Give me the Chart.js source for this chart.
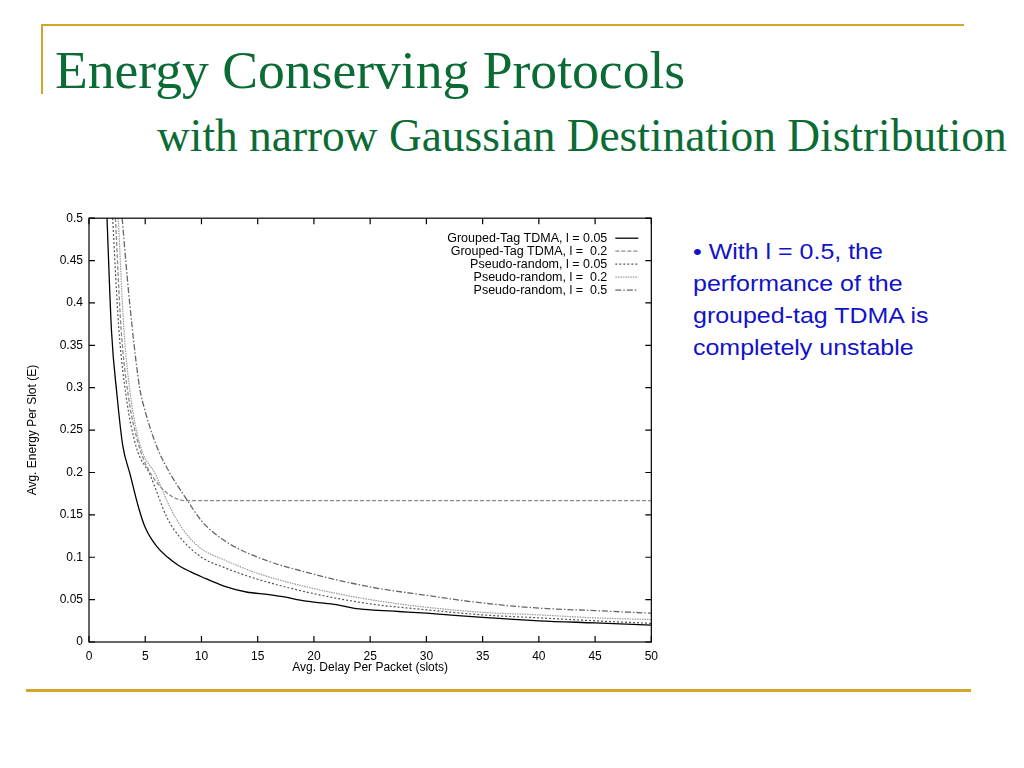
<!DOCTYPE html>
<html>
<head>
<meta charset="utf-8">
<title>Energy Conserving Protocols</title>
<script src="https://cdn.jsdelivr.net/npm/chart.js@4.4.0/dist/chart.umd.min.js"></script>
<style>
  body { margin: 0; width: 1024px; height: 768px; background: #fff; position: relative; overflow: hidden; }
  .rule { position: absolute; background: #d4a52a; }
  .title { position: absolute; font-family: "Liberation Serif", "Times New Roman", serif; color: #0b6b35; white-space: nowrap; }
  #title1 { left: 55px; top: 44px; font-size: 53.6px; line-height: 53px; }
  #title2 { left: 157px; top: 114px; font-size: 45.4px; line-height: 45px; }
  #note { position: absolute; left: 693px; top: 236px; font-family: "Liberation Sans", Arial, sans-serif;
          font-size: 22px; line-height: 32px; color: #1212c8; transform: scaleX(1.135); transform-origin: left top; white-space: nowrap; }
  #chartBox { position: absolute; left: 20px; top: 205px; width: 645px; height: 475px; }
</style>
</head>
<body>
<div class="rule" style="left:42px; top:24px; width:922px; height:2px;"></div>
<div class="rule" style="left:41px; top:24px; width:2px; height:70px;"></div>
<div class="rule" style="left:26px; top:689px; width:945px; height:3px;"></div>
<div class="title" id="title1">Energy Conserving Protocols</div>
<div class="title" id="title2">with narrow Gaussian Destination Distribution</div>
<div id="note">• With l = 0.5, the<br>performance of the<br>grouped-tag TDMA is<br>completely unstable</div>
<div id="chartBox"><canvas id="energyChart"></canvas></div>

<script>
// series: delay (x, slots) and energy (y)
const gt05Delay  = [1.6, 2.0, 2.5, 3.0, 3.65, 4.4, 5.0, 6.0, 7.0, 8.0, 9.0, 10, 12, 14, 16, 17.5, 18.5, 20, 22, 23.5, 25, 27.5, 30, 35, 40, 45, 50];
const gt05Energy = [0.5, 0.367, 0.29, 0.232, 0.198, 0.159, 0.135, 0.113, 0.100, 0.090, 0.083, 0.077, 0.066, 0.059, 0.056, 0.053, 0.050, 0.047, 0.044, 0.040, 0.038, 0.036, 0.034, 0.029, 0.025, 0.0225, 0.020];

const gt2Delay  = [2.35, 2.85, 3.5, 4.3, 5.43, 8.7, 50];
const gt2Energy = [0.5, 0.37, 0.29, 0.238, 0.2, 0.1667, 0.1667];

const pr05Delay  = [2.1, 2.65, 3.3, 4.2, 5.4, 7.0, 8.0, 10, 12, 15, 20, 25, 30, 35, 40, 45, 50];
const pr05Energy = [0.5, 0.37, 0.29, 0.23, 0.198, 0.145, 0.125, 0.100, 0.088, 0.074, 0.057, 0.045, 0.038, 0.032, 0.0285, 0.025, 0.022];

const pr2Delay  = [2.6, 3.1, 3.7, 4.6, 5.9, 7.2, 8.5, 10, 12, 15, 20, 25, 30, 35, 40, 45, 50];
const pr2Energy = [0.5, 0.37, 0.29, 0.23, 0.198, 0.159, 0.13, 0.110, 0.097, 0.081, 0.063, 0.050, 0.041, 0.035, 0.032, 0.0285, 0.0265];

const pr5Delay  = [2.95, 3.4, 3.85, 4.5, 5.0, 5.5, 6.2, 7.2, 8.7, 10, 12, 15, 20, 25, 30, 35, 40, 45, 50];
const pr5Energy = [0.5, 0.43, 0.37, 0.30, 0.272, 0.25, 0.225, 0.199, 0.168, 0.143, 0.120, 0.100, 0.080, 0.065, 0.055, 0.046, 0.040, 0.037, 0.034];

const seriesLabels = [
  'Grouped-Tag TDMA, l = 0.05',
  'Grouped-Tag TDMA, l =  0.2',
  'Pseudo-random, l = 0.05',
  'Pseudo-random, l =  0.2',
  'Pseudo-random, l =  0.5'
];

const xTicks = [0, 5, 10, 15, 20, 25, 30, 35, 40, 45, 50];
const yTicks = [0, 0.05, 0.1, 0.15, 0.2, 0.25, 0.3, 0.35, 0.4, 0.45, 0.5];

function toPoints(xs, ys) {
  return xs.map((x, i) => ({ x: x, y: ys[i] }));
}

function lineSet(label, xs, ys, color, dash, width) {
  return {
    label: label,
    data: toPoints(xs, ys),
    showLine: true,
    borderColor: color,
    borderWidth: width,
    borderDash: dash,
    pointRadius: 0,
    fill: false,
    cubicInterpolationMode: 'monotone'
  };
}

const font = { family: '"Liberation Sans", Arial, sans-serif', size: 12 };
const keyFont = { family: '"Liberation Sans", Arial, sans-serif', size: 12.5 };

// gnuplot style: closed border, inward ticks on all four sides, key inside top right
const gnuplotFrame = {
  id: 'gnuplotFrame',
  afterDraw(chart) {
    const c = chart.ctx;
    const a = chart.chartArea;
    const xs = chart.scales.x, ys = chart.scales.y;
    c.save();
    c.strokeStyle = '#000';
    c.lineWidth = 1.2;
    c.setLineDash([]);
    c.strokeRect(a.left, a.top, a.right - a.left, a.bottom - a.top);
    c.beginPath();
    xTicks.forEach(v => {
      const px = xs.getPixelForValue(v);
      c.moveTo(px, a.bottom); c.lineTo(px, a.bottom - 6);
      c.moveTo(px, a.top); c.lineTo(px, a.top + 6);
    });
    yTicks.forEach(v => {
      const py = ys.getPixelForValue(v);
      c.moveTo(a.left, py); c.lineTo(a.left + 6, py);
      c.moveTo(a.right, py); c.lineTo(a.right - 6, py);
    });
    c.stroke();

    // key
    c.font = keyFont.size + 'px ' + keyFont.family;
    c.textAlign = 'right';
    c.textBaseline = 'middle';
    chart.data.datasets.forEach((ds, i) => {
      const y = a.top + 20 + i * 13;
      c.fillStyle = '#000';
      c.fillText(ds.label, a.right - 44, y);
      c.strokeStyle = ds.borderColor;
      c.lineWidth = ds.borderWidth;
      c.setLineDash(ds.borderDash);
      c.beginPath();
      c.moveTo(a.right - 36, y);
      c.lineTo(a.right - 13, y);
      c.stroke();
    });
    c.restore();
  }
};

new Chart(document.getElementById('energyChart'), {
  type: 'scatter',
  data: {
    datasets: [
      lineSet(seriesLabels[0], gt05Delay, gt05Energy, '#000000', [], 1.3),
      lineSet(seriesLabels[1], gt2Delay, gt2Energy, '#8a8a8a', [4, 2], 1.3),
      lineSet(seriesLabels[2], pr05Delay, pr05Energy, '#555555', [2, 2], 1.2),
      lineSet(seriesLabels[3], pr2Delay, pr2Energy, '#9a9a9a', [1.5, 1], 1.2),
      lineSet(seriesLabels[4], pr5Delay, pr5Energy, '#666666', [6, 2, 1.5, 2], 1.3)
    ]
  },
  options: {
    responsive: true,
    maintainAspectRatio: false,
    animation: false,
    layout: { padding: { top: 12, right: 4, left: 0, bottom: 0 } },
    plugins: { legend: { display: false }, tooltip: { enabled: false } },
    scales: {
      x: {
        type: 'linear', min: 0, max: 50,
        afterBuildTicks: s => { s.ticks = xTicks.map(v => ({ value: v })); },
        afterFit: s => { s.height = 38; },
        grid: { display: false, drawTicks: false },
        border: { display: false },
        ticks: { color: '#000', font: font, padding: 7, maxRotation: 0 },
        title: { display: true, text: 'Avg. Delay Per Packet (slots)', color: '#000', font: font, padding: { top: 1, bottom: 5 } }
      },
      y: {
        type: 'linear', min: 0, max: 0.5,
        afterBuildTicks: s => { s.ticks = yTicks.map(v => ({ value: v })); },
        afterFit: s => { s.width = 69; },
        grid: { display: false, drawTicks: false },
        border: { display: false },
        ticks: { color: '#000', font: font, padding: 6, callback: v => String(+v.toFixed(2)) },
        title: { display: true, text: 'Avg. Energy Per Slot (E)', color: '#000', font: font, padding: { top: 5, bottom: 0 } }
      }
    }
  },
  plugins: [gnuplotFrame]
});
</script>
</body>
</html>
